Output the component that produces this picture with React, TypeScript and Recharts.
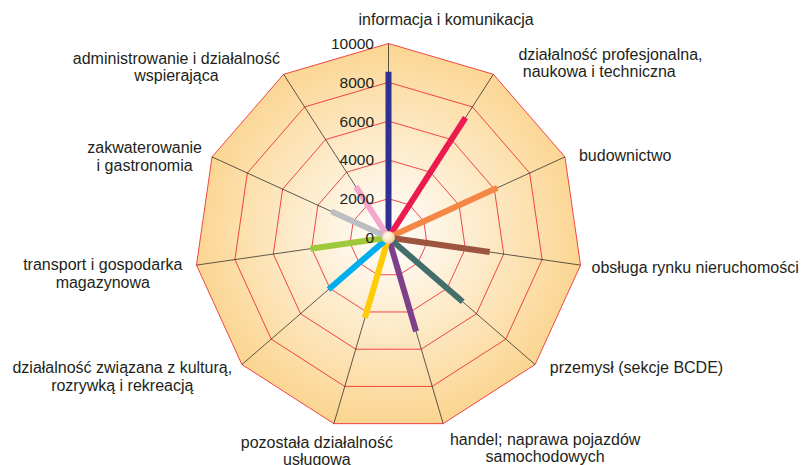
import React from "react";
import {
  PolarAngleAxis,
  PolarGrid,
  PolarRadiusAxis,
  Radar,
  RadarChart,
} from "recharts";

// categories, clockwise from the top
const categories = [
  "informacja i komunikacja",
  "działalność profesjonalna,\nnaukowa i techniczna",
  "budownictwo",
  "obsługa rynku nieruchomości",
  "przemysł (sekcje BCDE)",
  "handel; naprawa pojazdów\nsamochodowych",
  "pozostała działalność\nusługowa",
  "działalność związana z kulturą,\nrozrywką i rekreacją",
  "transport i gospodarka\nmagazynowa",
  "zakwaterowanie\ni gastronomia",
  "administrowanie i działalność\nwspierająca",
];

const values = [8550, 7340, 6170, 5270, 5060, 5040, 4320, 4090, 4060, 3240, 3110];

const radiusTicks = [0, 2000, 4000, 6000, 8000, 10000];
const AXIS_MAX = 10000;

const spokeColors = [
  "#2e3192",
  "#ec1a4f",
  "#f58745",
  "#9e553f",
  "#436e6c",
  "#7d4089",
  "#ffcb05",
  "#00adee",
  "#9dc93b",
  "#bcbec0",
  "#f4a7cb",
];

const CX = 388.5;
const CY = 237.5;
const R = 194;

// where each category label sits relative to its outer vertex
const labelLayout: { anchor: "start" | "middle" | "end"; dx: number; dy: number; lineDx?: number[] }[] = [
  { anchor: "start", dx: -30, dy: -23 },
  { anchor: "start", dx: 25, dy: -19.3, lineDx: [0, 4.4] },
  { anchor: "start", dx: 14, dy: -1 },
  { anchor: "start", dx: 11, dy: 3 },
  { anchor: "start", dx: 14.7, dy: 3.8 },
  { anchor: "middle", dx: 102, dy: 16.4 },
  { anchor: "middle", dx: -17, dy: 19.4 },
  { anchor: "middle", dx: -119.6, dy: 3.8 },
  { anchor: "middle", dx: -93.7, dy: 0 },
  { anchor: "middle", dx: -67.4, dy: -8.6 },
  { anchor: "middle", dx: -107.2, dy: -15.3 },
];

const data = categories.map((name, i) => ({
  name,
  value: values[i],
  full: AXIS_MAX,
}));

const FONT = "'Liberation Sans', Arial, sans-serif";
const TEXT = "#231f20";

function CategoryTick(props: any) {
  const { payload } = props;
  const i = payload.index ?? props.index;
  const lay = labelLayout[i];
  // pull the tick point back onto the outer vertex
  const ux = props.x - CX;
  const uy = props.y - CY;
  const len = Math.hypot(ux, uy) || 1;
  const vx = CX + (ux / len) * R;
  const vy = CY + (uy / len) * R;
  const lines = String(payload.value).split("\n");
  return (
    <text
      x={vx + lay.dx}
      y={vy + lay.dy + 4.6}
      textAnchor={lay.anchor}
      fontFamily={FONT}
      fontSize={16}
      fill={TEXT}
    >
      {lines.map((line, k) => (
        <tspan key={k} x={vx + lay.dx + (lay.lineDx?.[k] ?? 0)} dy={k === 0 ? 0 : 17.8}>
          {line}
        </tspan>
      ))}
    </text>
  );
}

function RadiusTick(props: any) {
  const { x, y, payload } = props;
  return (
    <text x={x - 14.5} y={y + 5.5} textAnchor="end" fontFamily={FONT} fontSize={15.5} fill={TEXT}>
      {payload.value}
    </text>
  );
}

function SpokeShape(props: any) {
  const points = props.points ?? [];
  if (!points.length) return <g />;
  const cx = points[0].cx;
  const cy = points[0].cy;
  return (
    <g>
      {points.map((p: any, i: number) => (
        <line
          key={i}
          x1={cx}
          y1={cy}
          x2={p.x}
          y2={p.y}
          stroke={spokeColors[i]}
          strokeWidth={6}
        />
      ))}
      <circle cx={cx} cy={cy} r={6} fill="url(#hubGrad)" stroke="#f3d9b0" strokeWidth={0.8} />
    </g>
  );
}

export default function App() {
  return (
    <div style={{ position: "absolute", left: 0, top: 0, background: "#fff" }}>
      <RadarChart
        width={804}
        height={465}
        data={data}
        cx={CX}
        cy={CY}
        outerRadius={R}
        startAngle={90}
        endAngle={-270}
        margin={{ top: 0, right: 0, bottom: 0, left: 0 }}
      >
        <defs>
          <radialGradient id="bgGrad" cx="50%" cy="50%" r="52%">
            <stop offset="0%" stopColor="#ffffff" />
            <stop offset="100%" stopColor="#fbd48e" />
          </radialGradient>
          <radialGradient id="hubGrad" cx="40%" cy="35%" r="65%">
            <stop offset="0%" stopColor="#fffdf6" />
            <stop offset="60%" stopColor="#fde7bf" />
            <stop offset="100%" stopColor="#f6c98b" />
          </radialGradient>
        </defs>
        <Radar
          dataKey="full"
          stroke="none"
          fill="url(#bgGrad)"
          fillOpacity={1}
          isAnimationActive={false}
          zIndex={-200}
        />
        <PolarGrid gridType="polygon" radialLines={false} stroke="#ed1c24" strokeWidth={0.8} />
        <PolarGrid gridType="polygon" polarRadius={[0]} stroke="#1a1a1a" strokeWidth={0.7} />
        <PolarAngleAxis
          dataKey="name"
          axisLine={false}
          tickLine={false}
          tickSize={0}
          tick={<CategoryTick />}
        />
        <PolarRadiusAxis
          angle={90}
          type="number"
          domain={[0, AXIS_MAX]}
          ticks={radiusTicks}
          axisLine={false}
          tickLine={false}
          tick={<RadiusTick />}
        />
        <Radar
          dataKey="value"
          fill="none"
          stroke="none"
          isAnimationActive={false}
          shape={<SpokeShape />}
        />
      </RadarChart>
    </div>
  );
}
